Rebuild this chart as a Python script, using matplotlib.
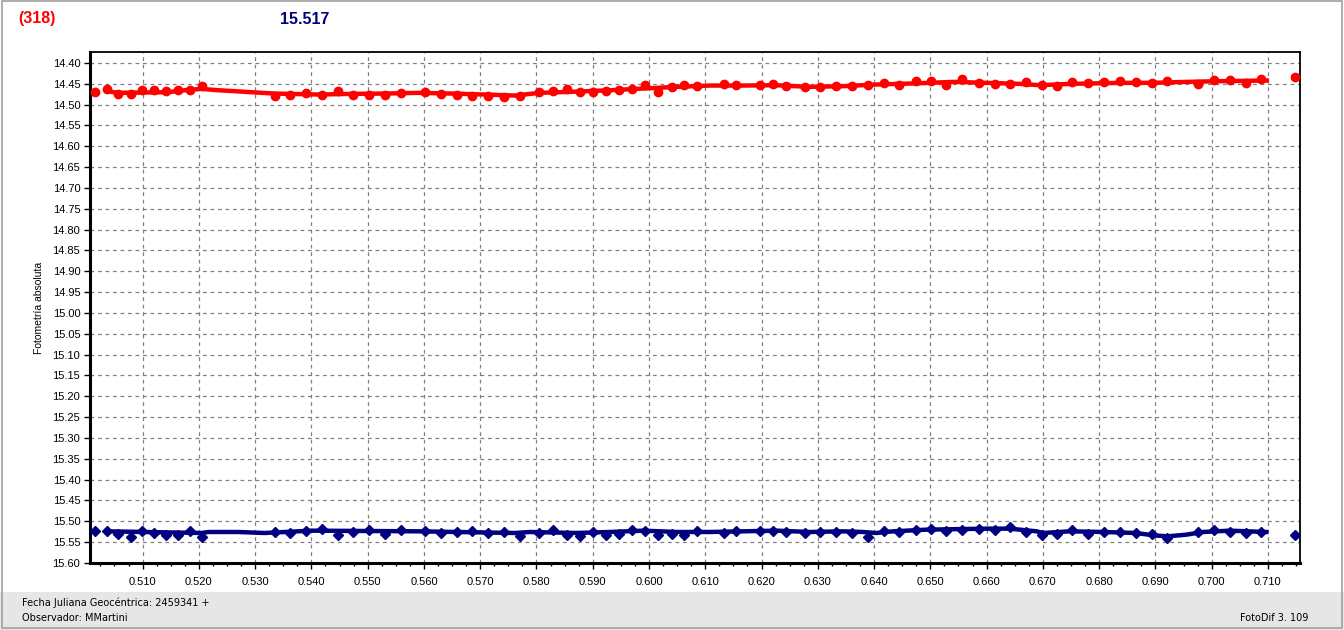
import numpy as np
import matplotlib.pyplot as plt
from matplotlib.patches import Rectangle
from matplotlib.ticker import MultipleLocator, FormatStrFormatter

# observation times (fraction of day after JD 2459341)
jd = [0.50152, 0.50360, 0.50566, 0.50792, 0.50993, 0.51201, 0.51409, 0.51633, 0.51840, 0.52048,
      0.53351, 0.53617, 0.53896, 0.54180, 0.54465, 0.54742, 0.55021, 0.55305, 0.55590, 0.56016,
      0.56300, 0.56579, 0.56856, 0.57141, 0.57425,
      0.57704, 0.58047, 0.58296, 0.58534, 0.58770, 0.58996, 0.59232, 0.59458, 0.59689, 0.59930,
      0.60168, 0.60405, 0.60623, 0.60861, 0.61334, 0.61554, 0.61981, 0.62205, 0.62430, 0.62773,
      0.63047, 0.63331, 0.63615, 0.63900, 0.64171, 0.64443, 0.64740,
      0.65019, 0.65286, 0.65570, 0.65859, 0.66144, 0.66410, 0.66694, 0.66979, 0.67251, 0.67524,
      0.67809, 0.68093, 0.68377, 0.68649, 0.68933, 0.69205, 0.69763, 0.70047, 0.70332, 0.70603,
      0.70882, 0.71474]

mag_var = [14.4705, 14.4617, 14.4737, 14.4737, 14.4657, 14.4657, 14.468, 14.464, 14.4657, 14.456,
           14.4785, 14.476, 14.472, 14.476, 14.468, 14.476, 14.476, 14.476, 14.472, 14.4705,
           14.4737, 14.476, 14.4785, 14.480, 14.4817,
           14.480, 14.4705, 14.468, 14.4625, 14.4705, 14.469, 14.4665, 14.464, 14.4625, 14.452,
           14.469, 14.4577, 14.452, 14.4545, 14.4505, 14.4529, 14.4529, 14.4497, 14.456, 14.4577,
           14.4577, 14.4545, 14.4545, 14.4529, 14.448, 14.452, 14.444,
           14.444, 14.4537, 14.4377, 14.448, 14.4505, 14.4505, 14.4457, 14.4537, 14.456, 14.4457,
           14.448, 14.4457, 14.4425, 14.4457, 14.448, 14.4425, 14.4505, 14.44, 14.44, 14.448,
           14.4377, 14.4345]

mag_cmp = [15.5224, 15.5224, 15.530, 15.5368, 15.5224, 15.528, 15.5336, 15.532, 15.524, 15.5385,
           15.5256, 15.528, 15.5224, 15.5176, 15.5336, 15.5256, 15.520, 15.530, 15.520, 15.5224,
           15.528, 15.5256, 15.524, 15.528, 15.5256,
           15.536, 15.528, 15.520, 15.532, 15.536, 15.5256, 15.5336, 15.530, 15.520, 15.5224,
           15.532, 15.530, 15.5336, 15.5224, 15.528, 15.5224, 15.5224, 15.5224, 15.5256, 15.528,
           15.5256, 15.5256, 15.528, 15.5385, 15.524, 15.5256, 15.520,
           15.5176, 15.524, 15.520, 15.5176, 15.520, 15.5145, 15.5256, 15.5336, 15.530, 15.520,
           15.530, 15.5256, 15.5256, 15.528, 15.530, 15.540, 15.5256, 15.520, 15.5256, 15.528,
           15.5256, 15.532]

# smoothed curves as drawn by the program
trend_var_x = [0.5036, 0.5057, 0.5145, 0.5175, 0.5205, 0.5234, 0.5264, 0.5293, 0.5335, 0.5412,
               0.5471, 0.5531, 0.5590, 0.5649, 0.5708, 0.5762, 0.5805, 0.5872, 0.5931, 0.5989,
               0.6049, 0.6108, 0.6167, 0.6226, 0.6286, 0.6345, 0.6404, 0.6464, 0.6498, 0.6541,
               0.6600, 0.6659, 0.6695, 0.6748, 0.6837, 0.6896, 0.6955, 0.7014, 0.7098]
trend_var_y = [14.468, 14.472, 14.4705, 14.4657, 14.4625, 14.4657, 14.468, 14.4705, 14.4737, 14.476,
               14.4745, 14.4737, 14.472, 14.4737, 14.476, 14.4785, 14.472, 14.469, 14.4657, 14.4617,
               14.4577, 14.4545, 14.4545, 14.4537, 14.4577, 14.456, 14.452, 14.4497, 14.448, 14.4457,
               14.448, 14.4505, 14.4537, 14.4505, 14.448, 14.448, 14.4457, 14.444, 14.4425]

trend_cmp_x = [0.5036, 0.5205, 0.5217, 0.5270, 0.5317, 0.5400, 0.5590, 0.5762, 0.5788, 0.5871,
               0.5930, 0.5990, 0.6049, 0.6108, 0.6167, 0.6227, 0.6286, 0.6345, 0.6380, 0.6404,
               0.6434, 0.6493, 0.6600, 0.6641, 0.6689, 0.6700, 0.6748, 0.6807, 0.6866, 0.6896,
               0.6922, 0.6955, 0.6985, 0.7032, 0.7097]
trend_cmp_y = [15.524, 15.528, 15.5256, 15.5256, 15.528, 15.5224, 15.524, 15.528, 15.5256, 15.528,
               15.5256, 15.5224, 15.5256, 15.5256, 15.524, 15.5224, 15.5256, 15.524, 15.5256, 15.528,
               15.524, 15.520, 15.5176, 15.5176, 15.524, 15.528, 15.524, 15.5256, 15.528, 15.5336,
               15.536, 15.532, 15.5256, 15.5224, 15.5256]

RED = '#ff0000'
NAVY = '#000080'

fig = plt.figure(figsize=(13.44, 6.3), dpi=100)
fig.patch.set_facecolor('white')

# footer band and frame
fig.patches.append(Rectangle((0, 0), 1, 38 / 630, transform=fig.transFigure,
                             facecolor='#e6e6e6', edgecolor='none', zorder=0))
fig.patches.append(Rectangle((0.0015, 0.003), 0.997, 0.995, transform=fig.transFigure,
                             facecolor='none', edgecolor='#a0a0a0', lw=1.2, zorder=5))

ax = fig.add_axes([90 / 1344, 1 - 563 / 630, 1210 / 1344, 511 / 630])

ax.plot(trend_var_x, trend_var_y, color=RED, lw=3.2, zorder=3)
ax.plot(jd, mag_var, 'o', color=RED, ms=6, zorder=4)
ax.plot(trend_cmp_x, trend_cmp_y, color=NAVY, lw=3.2, zorder=3)
ax.plot(jd, mag_cmp, 'D', color=NAVY, ms=5.6, zorder=4)

ax.set_xlim(0.50065, 0.71570)
ax.set_ylim(15.60, 14.374)
ax.xaxis.set_major_locator(MultipleLocator(0.01))
ax.xaxis.set_minor_locator(MultipleLocator(0.0025))
ax.xaxis.set_major_formatter(FormatStrFormatter('%.3f'))
ax.yaxis.set_major_locator(MultipleLocator(0.05))
ax.yaxis.set_major_formatter(FormatStrFormatter('%.2f'))

ax.grid(True, which='major', color='#808080', ls=(0, (3, 3)), lw=0.9)
for s in ['left', 'bottom']:
    ax.spines[s].set_linewidth(2.2)
for s in ['top', 'right']:
    ax.spines[s].set_linewidth(1.3)
ax.tick_params(axis='both', which='major', labelsize=8, length=4, width=1, color='black',
               labelfontfamily='Liberation Sans')
ax.tick_params(axis='x', which='minor', length=2.5, width=1)
ax.tick_params(axis='x', pad=6)
ax.tick_params(axis='y', pad=3)
ax.set_ylabel('Fotometría absoluta', fontsize=7.5, family='Liberation Sans', labelpad=6)

fig.text(18 / 1344, 1 - 19 / 630, '(318)', color=RED, fontsize=11.5, fontweight='bold',
         family='Liberation Sans', va='center', ha='left')
fig.text(280 / 1344, 1 - 19 / 630, '15.517', color=NAVY, fontsize=11.5, fontweight='bold',
         family='Liberation Sans', va='center', ha='left')

fig.text(22 / 1344, 1 - 603 / 630, 'Fecha Juliana Geocéntrica: 2459341 +', fontsize=7,
         family='DejaVu Sans', va='center', ha='left')
fig.text(22 / 1344, 1 - 618 / 630, 'Observador: MMartini', fontsize=7,
         family='DejaVu Sans', va='center', ha='left')
fig.text(1308 / 1344, 1 - 618 / 630, 'FotoDif 3. 109', fontsize=7,
         family='DejaVu Sans', va='center', ha='right')

fig.savefig('out.png', dpi=100)
